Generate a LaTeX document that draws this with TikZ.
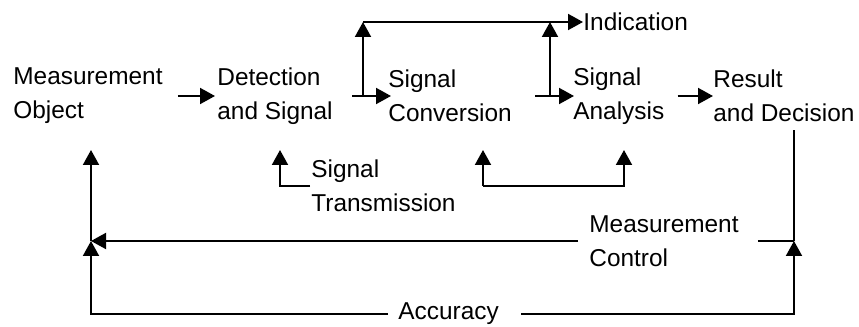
\documentclass[tikz,border=0pt]{standalone}
\usepackage{fontspec}
\setsansfont{Liberation Sans}
\usepackage{tikz}
\usetikzlibrary{arrows.meta}
\tikzset{
  Pfeil/.style={line width=1pt,->}, % Pfeile
  Linie/.style={line width=1pt}, % Linien ohne Spitze
  Block/.style={anchor=west,align=left,inner sep=0pt} % Textbloecke
}

\begin{document}
\begin{tikzpicture}[x=0.5pt,y=0.5pt,
font=\sffamily\fontsize{12.2}{17}\selectfont,
>={Triangle[length=7.5pt,width=8pt]} % Pfeilspitzen
]
\useasboundingbox (0,0) rectangle (859,327);

%Bloecke
\node[Block] (obj)   at (13,231)  {Measurement\\Object};
\node[Block] (det)   at (217,231) {Detection\\and Signal};
\node[Block] (conv)  at (388,231) {Signal\\Conversion};
\node[Block] (ana)   at (573,231) {Signal\\Analysis};
\node[Block] (res)   at (713,231) {Result\\and Decision};
\node[Block] (ind)   at (583,305) {Indication};
\node[Block] (trans) at (311,141) {Signal\\Transmission};
\node[Block] (ctrl)  at (589,86)  {Measurement\\Control};
\node[Block] (acc)   at (398,13)  {Accuracy};

%Hilfspunkte
\coordinate (b1) at ([xshift=-12.5pt]conv.west);
\coordinate (b2) at ([xshift=-11.5pt]ana.west);
\coordinate (t1) at (280,177);
\coordinate (c1) at (483,177);
\coordinate (c2) at (624,177);
\coordinate (rd) at (794,197);
\coordinate (lo) at (91,177);

%Hauptkette
\draw[Pfeil] ([xshift=7.5pt]obj.east) -- ([xshift=-1pt]det.west);
\draw[Pfeil] ([xshift=9.5pt]det.east) -- ([xshift=1.5pt]conv.west);
\draw[Pfeil] ([xshift=11.5pt]conv.east) -- ([xshift=0.5pt]ana.west);
\draw[Pfeil] ([xshift=6.5pt]ana.east) -- (res.west);

%Anzeige
\draw[Pfeil] (b1) -- (b1 |- ind.west);
\draw[Pfeil] (b1 |- ind.west) -- (ind.west);
\draw[Pfeil] (b2) -- (b2 |- ind.west);

%Signaluebertragung
\draw[Pfeil] ([xshift=-0.5pt]trans.west) -| (t1);
\draw[Pfeil] (c1 |- trans.west) -- (c1);
\draw[Pfeil] (c1 |- trans.west) -| (c2);

%Rueckfuehrung
\draw[Pfeil] ([xshift=11pt]acc.east) -| (rd |- ctrl.east);
\draw[Linie] (rd |- ctrl.east) -- (rd);
\draw[Linie] ([xshift=9.5pt]ctrl.east) -- (rd |- ctrl.east);
\draw[Pfeil] ([xshift=-5.5pt]ctrl.west) -- (lo |- ctrl.west);
\draw[Pfeil] ([xshift=-5pt]acc.west) -| (lo |- ctrl.west);
\draw[Pfeil] (lo |- ctrl.west) -- (lo);

\end{tikzpicture}
\end{document}
